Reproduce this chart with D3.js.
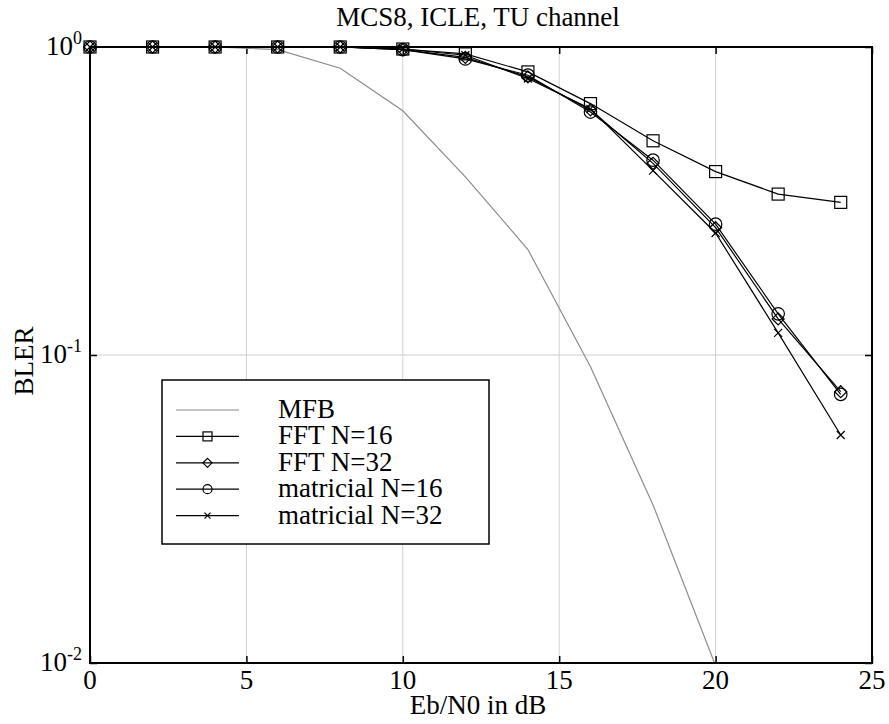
<!DOCTYPE html>
<html>
<head>
<meta charset="utf-8">
<script src="https://cdn.jsdelivr.net/npm/d3@7"></script>
<style>
  html, body { margin: 0; padding: 0; background: #fff; }
</style>
</head>
<body>
<svg id="chart" width="889" height="724" font-family="'Liberation Serif', 'Times New Roman', 'DejaVu Serif', serif"></svg>
<script>
// Eb/N0 sweep points (dB)
const ebn0 = [0, 2, 4, 6, 8, 10, 12, 14, 16, 18, 20, 22, 24];
const ebn0Mfb = [0, 2, 4, 6, 8, 10, 12, 14, 16, 18, 20];

// Block error rates per receiver
const mfb        = [1, 1, 1, 0.98, 0.853, 0.621, 0.379, 0.220, 0.0916, 0.0326, 0.0098];
const fft16      = [1, 1, 1, 1, 1, 0.985, 0.95, 0.83, 0.655, 0.496, 0.394, 0.333, 0.313];
const fft32      = [1, 1, 1, 1, 1, 0.98, 0.925, 0.80, 0.625, 0.419, 0.259, 0.131, 0.076];
const matricial16 = [1, 1, 1, 1, 1, 0.98, 0.915, 0.81, 0.615, 0.429, 0.266, 0.136, 0.0745];
const matricial32 = [1, 1, 1, 1, 1, 0.985, 0.94, 0.79, 0.63, 0.397, 0.249, 0.118, 0.055];

const xTicks = [0, 5, 10, 15, 20, 25];
const yTicks = [0.01, 0.1, 1];
const yTickExp = ["-2", "-1", "0"];
const legendLabels = ["MFB", "FFT N=16", "FFT N=32", "matricial N=16", "matricial N=32"];

const series = [
  { name: legendLabels[0], x: ebn0Mfb, y: mfb, marker: "none", color: "#8c8c8c" },
  { name: legendLabels[1], x: ebn0, y: fft16, marker: "square", color: "#000" },
  { name: legendLabels[2], x: ebn0, y: fft32, marker: "diamond", color: "#000" },
  { name: legendLabels[3], x: ebn0, y: matricial16, marker: "circle", color: "#000" },
  { name: legendLabels[4], x: ebn0, y: matricial32, marker: "cross", color: "#000" }
];

const svg = d3.select("#chart");
const pL = 90, pR = 872, pT = 47, pB = 663;
const FS = 27;

const x = d3.scaleLinear().domain([0, 25]).range([pL, pR]);
const y = d3.scaleLog().domain([0.01, 1]).range([pB, pT]);

// grid
const grid = svg.append("g").attr("stroke", "#cfcfcf").attr("stroke-width", 1);
grid.selectAll("line.vx").data(xTicks.slice(1, -1)).join("line")
  .attr("x1", d => x(d)).attr("x2", d => x(d)).attr("y1", pT).attr("y2", pB);
grid.selectAll("line.hy").data([0.1]).join("line")
  .attr("x1", pL).attr("x2", pR).attr("y1", d => y(d)).attr("y2", d => y(d));

// axes: ticks drawn inward on all four sides
const tickLen = 7;
const axB = svg.append("g").attr("transform", `translate(0,${pB})`)
  .call(d3.axisBottom(x).tickValues(xTicks).tickSize(-tickLen).tickFormat(""));
const axT = svg.append("g").attr("transform", `translate(0,${pT})`)
  .call(d3.axisTop(x).tickValues(xTicks).tickSize(-tickLen).tickFormat(""));
const axL = svg.append("g").attr("transform", `translate(${pL},0)`)
  .call(d3.axisLeft(y).tickValues(yTicks).tickSize(-tickLen).tickFormat(""));
const axR = svg.append("g").attr("transform", `translate(${pR},0)`)
  .call(d3.axisRight(y).tickValues(yTicks).tickSize(-tickLen).tickFormat(""));
[axB, axT, axL, axR].forEach(a => {
  a.select(".domain").remove();
  a.selectAll(".tick line").attr("stroke", "#000").attr("stroke-width", 1.5);
});

// x tick labels
svg.append("g").selectAll("text").data(xTicks).join("text")
  .attr("x", d => x(d)).attr("y", 689)
  .attr("text-anchor", "middle").attr("font-size", FS)
  .text(d => d);

// y tick labels 10^n
const yl = svg.append("g").selectAll("text").data(yTicks).join("text")
  .attr("x", 82).attr("y", d => y(d) + 8)
  .attr("text-anchor", "end").attr("font-size", FS);
yl.append("tspan").text("10");
yl.append("tspan").attr("font-size", 18).attr("dy", -11).text((d, i) => yTickExp[i]);

// plot clip for the curve that leaves the frame
svg.append("clipPath").attr("id", "plotclip").append("rect")
  .attr("x", pL).attr("y", pT - 10).attr("width", pR - pL).attr("height", pB - pT + 10);

const line = d3.line().x(d => x(d[0])).y(d => y(d[1]));

function drawMarker(g, type, cx, cy, s) {
  if (type === "square") {
    g.append("rect").attr("x", cx - s / 2).attr("y", cy - s / 2).attr("width", s).attr("height", s);
  } else if (type === "circle") {
    g.append("circle").attr("cx", cx).attr("cy", cy).attr("r", s / 2);
  } else if (type === "diamond") {
    const h = s / 2;
    g.append("path").attr("d", `M${cx},${cy - h}L${cx + h},${cy}L${cx},${cy + h}L${cx - h},${cy}Z`);
  } else if (type === "cross") {
    const h = s / 2;
    g.append("path").attr("d", `M${cx - h},${cy - h}L${cx + h},${cy + h}M${cx - h},${cy + h}L${cx + h},${cy - h}`);
  }
}
const markerSize = { square: 12, circle: 12.5, diamond: 12, cross: 8 };

series.forEach(s => {
  const pts = s.x.map((v, i) => [v, s.y[i]]);
  const p = svg.append("path").datum(pts)
    .attr("fill", "none").attr("stroke", s.color).attr("stroke-width", 1.2)
    .attr("d", line);
  if (s.marker === "none") p.attr("clip-path", "url(#plotclip)");
  if (s.marker !== "none") {
    const mg = svg.append("g").attr("fill", "none").attr("stroke", "#000").attr("stroke-width", 1.2);
    pts.forEach(d => drawMarker(mg, s.marker, x(d[0]), y(d[1]), markerSize[s.marker]));
  }
});

// frame
svg.append("rect").attr("x", pL).attr("y", pT).attr("width", pR - pL).attr("height", pB - pT)
  .attr("fill", "none").attr("stroke", "#000").attr("stroke-width", 2);

// title and axis labels
svg.append("text").attr("x", (pL + pR) / 2 - 3).attr("y", 26).attr("text-anchor", "middle")
  .attr("font-size", FS).text("MCS8, ICLE, TU channel");
svg.append("text").attr("x", (pL + pR) / 2 - 3).attr("y", 714).attr("text-anchor", "middle")
  .attr("font-size", FS).text("Eb/N0 in dB");
svg.append("text").attr("transform", "translate(33,361) rotate(-90)").attr("text-anchor", "middle")
  .attr("font-size", FS).text("BLER");

// legend
const lg = svg.append("g");
lg.append("rect").attr("x", 162).attr("y", 380).attr("width", 327).attr("height", 164)
  .attr("fill", "#fff").attr("stroke", "#000").attr("stroke-width", 1.5);
series.forEach((s, i) => {
  const ly = 410 + i * 26.4;
  lg.append("line").attr("x1", 176).attr("x2", 239).attr("y1", ly).attr("y2", ly)
    .attr("stroke", s.color).attr("stroke-width", 1.2);
  if (s.marker !== "none") {
    const mg = lg.append("g").attr("fill", "none").attr("stroke", "#000").attr("stroke-width", 1.2);
    drawMarker(mg, s.marker, 207.5, ly, s.marker === "cross" ? 6 : 9);
  }
  lg.append("text").attr("x", 278).attr("y", ly + 8).attr("font-size", FS).text(s.name);
});
</script>
</body>
</html>
